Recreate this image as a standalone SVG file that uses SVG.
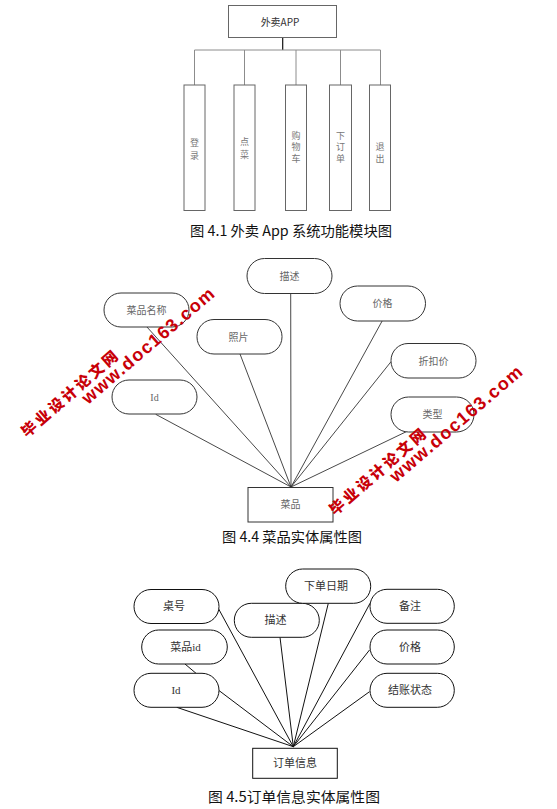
<svg xmlns="http://www.w3.org/2000/svg" width="557" height="809" viewBox="0 0 557 809">
<style>
.bg{fill:#fff}
.box1{fill:#fff;stroke:#666;stroke-width:1}
.tree{stroke:#8c8c8c;stroke-width:1;fill:none}
.trunk{stroke:#111;stroke-width:1.2;fill:none}
.v{font-family:"Noto Sans CJK SC","Noto Sans CJK JP",sans-serif;font-size:9px;fill:#777;text-anchor:middle}
.pill{fill:#fff;stroke:#333;stroke-width:1}
.pill3{fill:#fff;stroke:#111;stroke-width:1}
.lbl{font-family:"Liberation Serif","Noto Sans CJK SC",serif;font-size:10px;fill:#666;text-anchor:middle}
.lbl3{font-family:"Liberation Serif","Noto Sans CJK SC",serif;font-size:11px;fill:#333;text-anchor:middle}
.ln{stroke:#333;stroke-width:0.9;fill:none}
.ln3{stroke:#111;stroke-width:1;fill:none}
.cap{font-family:"Noto Sans CJK SC","Noto Sans CJK JP",sans-serif;font-size:14px;fill:#111}
.wmc{font-family:"Noto Sans CJK SC","Noto Sans CJK JP",sans-serif;font-weight:900;font-size:15px;fill:#c80008}
.wme{font-family:"Liberation Sans",Arial,sans-serif;font-weight:bold;font-size:18px;fill:#c80008}
</style>
<rect class="bg" x="0" y="0" width="557" height="809"/>

<!-- Figure 4.1 -->
<g id="connectors-fig1">
<line class="trunk" x1="282.7" y1="37.5" x2="282.7" y2="50"/>
<path class="tree" d="M194.5 85 V50 H380.5 V85 M244.5 50 V85 M296 50 V85 M340.5 50 V85"/>
</g>
<g id="app"><rect class="box1" x="228.5" y="5.5" width="108" height="32"/><text x="280" y="26" style="font-family:'Noto Sans CJK SC',sans-serif;font-size:10px;fill:#333;text-anchor:middle">外卖APP</text></g>
<g id="login"><rect class="box1" x="184" y="85" width="21" height="125.5"/><text class="v" x="194.5" y="146">登</text><text class="v" x="194.5" y="158.5">录</text></g>
<g id="order-dish"><rect class="box1" x="234" y="85" width="21" height="125.5"/><text class="v" x="244.5" y="144.5">点</text><text class="v" x="244.5" y="158">菜</text></g>
<g id="cart"><rect class="box1" x="285.5" y="85" width="21" height="125.5"/><text class="v" x="296" y="138.5">购</text><text class="v" x="296" y="150">物</text><text class="v" x="296" y="161.5">车</text></g>
<g id="place-order"><rect class="box1" x="329.5" y="85" width="22" height="125.5"/><text class="v" x="340.5" y="138.5">下</text><text class="v" x="340.5" y="150">订</text><text class="v" x="340.5" y="161.5">单</text></g>
<g id="exit"><rect class="box1" x="369.5" y="85" width="21" height="125.5"/><text class="v" x="380" y="149.5">退</text><text class="v" x="380" y="161.5">出</text></g>
<text class="cap" x="190" y="236" textLength="202" lengthAdjust="spacingAndGlyphs">图 4.1 外卖 App 系统功能模块图</text>

<!-- Figure 4.4 -->
<g id="connectors-fig2">
<path class="ln" d="M146.7 326.7 L291 487 M240 354 L291 487 M155.7 414.3 L291 487 M290.7 293.3 L291 487 M382.3 320.7 L291 487 M391 361.7 L291 487 M406.7 431.5 L291 487"/>
</g>
<g id="dish-name"><rect class="pill" x="104" y="293" width="85" height="34" rx="17"/><text class="lbl" x="146.5" y="313.5">菜品名称</text></g>
<g id="photo"><rect class="pill" x="197" y="319.5" width="85" height="34.5" rx="17"/><text class="lbl" x="238.5" y="340.5">照片</text></g>
<g id="dish-id"><rect class="pill" x="112" y="380" width="85" height="34" rx="17"/><text class="lbl" x="154.5" y="400.5">Id</text></g>
<g id="dish-desc"><rect class="pill" x="247" y="258.5" width="85" height="35" rx="17.5"/><text class="lbl" x="289.5" y="279.5">描述</text></g>
<g id="dish-price"><rect class="pill" x="340" y="286" width="85.5" height="35" rx="17.5"/><text class="lbl" x="382.5" y="306.5">价格</text></g>
<g id="discount"><rect class="pill" x="391" y="343.5" width="85" height="34.5" rx="17"/><text class="lbl" x="433.5" y="364.5">折扣价</text></g>
<g id="dish-type"><rect class="pill" x="391" y="397" width="83" height="35" rx="17.5"/><text class="lbl" x="432.5" y="417.5">类型</text></g>
<g id="dish"><rect class="box1" style="stroke:#333" x="248" y="487.5" width="85" height="34.5"/><text class="lbl" x="290.5" y="508">菜品</text></g>
<text class="cap" x="222" y="542" textLength="140" lengthAdjust="spacingAndGlyphs">图 4.4 菜品实体属性图</text>

<!-- Figure 4.5 -->
<g id="connectors-fig3">
<path class="ln3" d="M218.3 608.3 L293.3 746.7 M218.3 690 L293.3 746.7 M176.7 707.3 L293.3 746.7 M280 637.3 L293.3 746.7 M328.3 603.3 L293.3 746.7 M370 603.3 L293.3 746.7 M369.5 650 L293.3 746.7 M369.5 691.7 L293.3 746.7 M185 664 L196 673.3"/>
</g>
<g id="table-no"><rect class="pill3" x="134" y="589.5" width="85" height="34" rx="17"/><text class="lbl3" x="174" y="610">桌号</text></g>
<g id="order-dish-id"><rect class="pill3" x="141.7" y="630" width="85.6" height="34" rx="17"/><text class="lbl3" x="185.5" y="651">菜品id</text></g>
<g id="order-id"><rect class="pill3" x="134" y="673.3" width="85" height="34" rx="17"/><text class="lbl3" x="176" y="694">Id</text></g>
<g id="order-desc"><rect class="pill3" x="234.3" y="603.3" width="85" height="34" rx="17"/><text class="lbl3" x="275.5" y="624">描述</text></g>
<g id="order-date"><rect class="pill3" x="285.7" y="569" width="85" height="34.3" rx="17"/><text class="lbl3" x="326" y="589.5">下单日期</text></g>
<g id="remark"><rect class="pill3" x="370" y="589.3" width="84.3" height="34" rx="17"/><text class="lbl3" x="410" y="610">备注</text></g>
<g id="order-price"><rect class="pill3" x="370" y="630" width="84.3" height="34" rx="17"/><text class="lbl3" x="410" y="651">价格</text></g>
<g id="pay-status"><rect class="pill3" x="370" y="673.3" width="84.3" height="34" rx="17"/><text class="lbl3" x="410" y="694">结账状态</text></g>
<g id="order-info"><rect class="pill3" x="252.7" y="748.3" width="84.6" height="30" rx="0"/><text class="lbl3" x="295" y="767">订单信息</text></g>
<text class="cap" x="208" y="802" textLength="172" lengthAdjust="spacingAndGlyphs">图 4.5订单信息实体属性图</text>

<!-- Watermarks -->
<g id="watermark-1">
<text class="wmc" transform="translate(27 438) rotate(-41)" textLength="122" lengthAdjust="spacing">毕业设计论文网</text>
<text class="wme" transform="translate(88 405) rotate(-40.5)" textLength="168" lengthAdjust="spacing">www.doc163.com</text>
</g>
<g id="watermark-2" transform="translate(308 78)">
<text class="wmc" transform="translate(27 438) rotate(-41)" textLength="122" lengthAdjust="spacing">毕业设计论文网</text>
<text class="wme" transform="translate(88 405) rotate(-40.5)" textLength="168" lengthAdjust="spacing">www.doc163.com</text>
</g>
</svg>
